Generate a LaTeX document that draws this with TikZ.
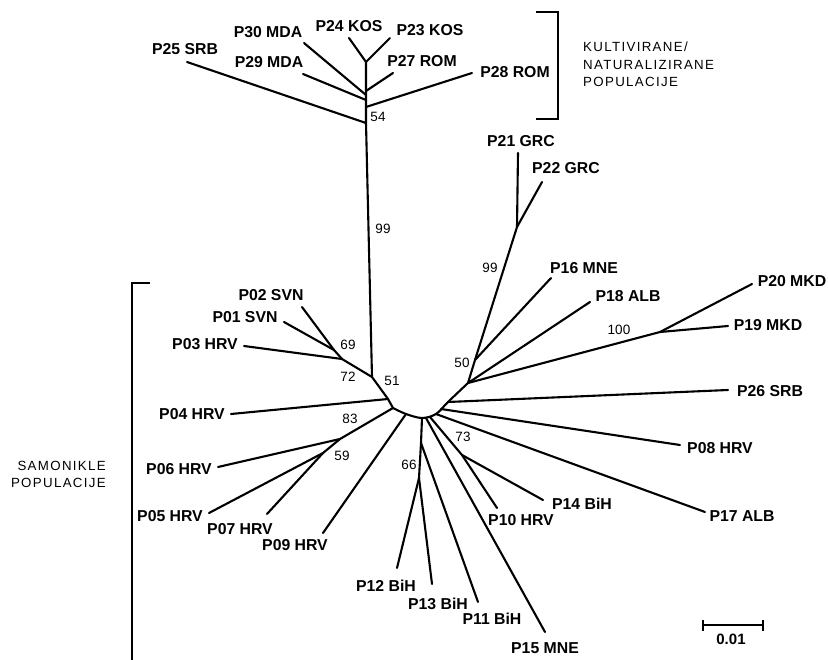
\documentclass[tikz,border=0pt]{standalone}
\usepackage{fontspec}
\setmainfont{Liberation Sans}
\newfontfamily\grpfont[LetterSpace=10]{Liberation Sans}
\begin{document}
\begin{tikzpicture}[x=1pt,y=-1pt,
  br/.style={line width=2.1pt, line cap=round, line join=round},
  brk/.style={line width=1.6pt},
  lab/.style={font=\fontsize{15.8}{18}\selectfont\bfseries, inner sep=0pt},
  bs/.style={font=\fontsize{13.5}{15}\selectfont, inner sep=0pt},
  grp/.style={font=\grpfont\fontsize{13.3}{17.5}\selectfont, inner sep=0pt}]
\useasboundingbox (0,0) rectangle (828,660);
% ---------- internal nodes
\coordinate (n54) at (366,123);
\coordinate (n28) at (366,107);
\coordinate (n29) at (366,100);
\coordinate (n30) at (366,95);
\coordinate (n27) at (366,91);
\coordinate (nK) at (366,62);
\coordinate (n51) at (372,377);
\coordinate (n72) at (342,359);
\coordinate (n69) at (334,350);
\coordinate (nB) at (388,399);
\coordinate (nC) at (393,408);
\coordinate (n83) at (340,439);
\coordinate (n59) at (323,453);
\coordinate (nD) at (406,414);
\coordinate (nE) at (422,418);
\coordinate (nE2) at (426,418);
\coordinate (n1) at (421,443);
\coordinate (n66) at (419,478);
\coordinate (nF) at (430,417);
\coordinate (n73) at (462,455);
\coordinate (nG) at (436,414);
\coordinate (nH) at (441,409);
\coordinate (nI) at (448,402);
\coordinate (nJ) at (468,383);
\coordinate (n100) at (660,332);
\coordinate (n50) at (475,360);
\coordinate (n99) at (517,227);
% ---------- tips
\coordinate (t25) at (187,62);
\coordinate (t28) at (472,73);
\coordinate (t29) at (303,74);
\coordinate (t30) at (304,43);
\coordinate (t27) at (393,73);
\coordinate (t24) at (349,38);
\coordinate (t23) at (390,38);
\coordinate (t03) at (244,346);
\coordinate (t01) at (284,322);
\coordinate (t02) at (302,307);
\coordinate (t04) at (231,414);
\coordinate (t06) at (218,467);
\coordinate (t05) at (209,513);
\coordinate (t07) at (267,514);
\coordinate (t09) at (323,533);
\coordinate (t12) at (397,568);
\coordinate (t13) at (432,584);
\coordinate (t11) at (478,602);
\coordinate (t15) at (545,632);
\coordinate (t10) at (497,508);
\coordinate (t14) at (543,500);
\coordinate (t17) at (705,512);
\coordinate (t08) at (680,445);
\coordinate (t26) at (728,390);
\coordinate (t18) at (590,302);
\coordinate (t20) at (752,284);
\coordinate (t19) at (728,326);
\coordinate (t16) at (551,278);
\coordinate (t21) at (518,153);
\coordinate (t22) at (542,182);
% ---------- branches
\draw[br] (nK) -- (n54) -- (n51) -- (nB) -- (nC);
\draw[br] plot[smooth, tension=0.55] coordinates {(nC) (nD) (nE) (nG) (nI) (nJ)};
\draw[br] (nJ) -- (n50) -- (n99);
\draw[br] (n54) -- (t25);
\draw[br] (n28) -- (t28);
\draw[br] (n29) -- (t29);
\draw[br] (n30) -- (t30);
\draw[br] (n27) -- (t27);
\draw[br] (nK) -- (t24);
\draw[br] (nK) -- (t23);
\draw[br] (n51) -- (n72) -- (n69) -- (t02);
\draw[br] (n69) -- (t01);
\draw[br] (n72) -- (t03);
\draw[br] (nB) -- (t04);
\draw[br] (nC) -- (n83) -- (t06);
\draw[br] (n83) -- (n59) -- (t05);
\draw[br] (n59) -- (t07);
\draw[br] (nD) -- (t09);
\draw[br] (nE) -- (n1) -- (n66) -- (t12);
\draw[br] (n66) -- (t13);
\draw[br] (n1) -- (t11);
\draw[br] (nE2) -- (t15);
\draw[br] (nF) -- (n73) -- (t10);
\draw[br] (n73) -- (t14);
\draw[br] (nG) -- (t17);
\draw[br] (nH) -- (t08);
\draw[br] (nI) -- (t26);
\draw[br] (nJ) -- (t18);
\draw[br] (nJ) -- (n100) -- (t20);
\draw[br] (n100) -- (t19);
\draw[br] (n50) -- (t16);
\draw[br] (n99) -- (t21);
\draw[br] (n99) -- (t22);
% ---------- leaf labels
\node[lab] (l25) at (185,49) {P25 SRB};
\node[lab] (l30) at (268,32) {P30 MDA};
\node[lab] (l29) at (269,62) {P29 MDA};
\node[lab] (l24) at (349,26) {P24 KOS};
\node[lab] (l23) at (430,30) {P23 KOS};
\node[lab] (l27) at (422,61) {P27 ROM};
\node[lab] (l28) at (515,72) {P28 ROM};
\node[lab] (l02) at (271,295) {P02 SVN};
\node[lab] (l01) at (245,317) {P01 SVN};
\node[lab] (l03) at (205,344) {P03 HRV};
\node[lab] (l04) at (192,414) {P04 HRV};
\node[lab] (l06) at (179,469) {P06 HRV};
\node[lab] (l05) at (170,516) {P05 HRV};
\node[lab] (l07) at (240,529) {P07 HRV};
\node[lab] (l09) at (295,545) {P09 HRV};
\node[lab] (l12) at (386,586) {P12 BiH};
\node[lab] (l13) at (438,604) {P13 BiH};
\node[lab] (l11) at (492,619) {P11 BiH};
\node[lab] (l15) at (545,648) {P15 MNE};
\node[lab] (l10) at (521,520) {P10 HRV};
\node[lab] (l14) at (582,504) {P14 BiH};
\node[lab] (l17) at (742,516) {P17 ALB};
\node[lab] (l08) at (720,448) {P08 HRV};
\node[lab] (l26) at (770,391) {P26 SRB};
\node[lab] (l18) at (628,296) {P18 ALB};
\node[lab] (l16) at (584,268) {P16 MNE};
\node[lab] (l20) at (792,281) {P20 MKD};
\node[lab] (l19) at (768,325) {P19 MKD};
\node[lab] (l21) at (521,141) {P21 GRC};
\node[lab] (l22) at (566,168) {P22 GRC};
% ---------- bootstrap values
\node[bs] (b54) at (378,117) {54};
\node[bs] (b99a) at (383,229) {99};
\node[bs] (b69) at (348,345) {69};
\node[bs] (b72) at (348,377) {72};
\node[bs] (b51) at (392,381) {51};
\node[bs] (b83) at (350,419) {83};
\node[bs] (b59) at (342,456) {59};
\node[bs] (b66) at (409,465) {66};
\node[bs] (b73) at (463,437) {73};
\node[bs] (b50) at (462,363) {50};
\node[bs] (b99b) at (490,268) {99};
\node[bs] (b100) at (619,330) {100};
% ---------- scale bar
\coordinate (s1) at (703,625);
\coordinate (s2) at (763,625);
\draw[br, line cap=butt] (s1) -- (s2);
\draw[br, line cap=butt] ([yshift=-5.5pt]s1) -- ([yshift=5.5pt]s1);
\draw[br, line cap=butt] ([yshift=-5.5pt]s2) -- ([yshift=5.5pt]s2);
\node[lab, font=\fontsize{15}{17}\selectfont\bfseries] (sl) at (731,639) {0.01};
% ---------- brackets and group labels
\coordinate (r1) at (536,12);
\coordinate (r2) at (558,12);
\coordinate (r3) at (558,119);
\coordinate (r4) at (536,119);
\draw[brk] (r1) -- (r2) -- (r3) -- (r4);
\coordinate (q1) at (150,283);
\coordinate (q2) at (132,283);
\coordinate (q3) at (132,660);
\draw[brk] (q1) -- (q2) -- (q3);
\node[grp, anchor=north west, align=left] (g1) at (583,42) {KULTIVIRANE/\\NATURALIZIRANE\\POPULACIJE};
\node[grp, anchor=north east, align=right] (g2) at (106,461) {SAMONIKLE\\POPULACIJE};
\end{tikzpicture}
\end{document}
